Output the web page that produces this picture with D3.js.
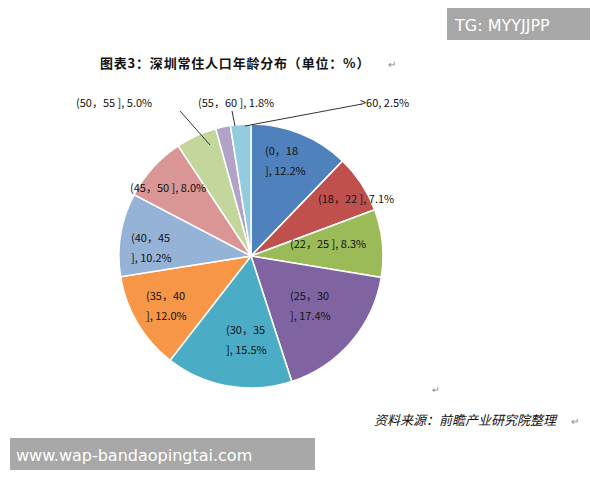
<!DOCTYPE html>
<html><head><meta charset="utf-8">
<script src="https://cdn.jsdelivr.net/npm/d3@7"></script>
<style>body{margin:0;background:#fff}</style>
</head><body>
<svg id="chart" width="600" height="480"></svg>
<script>
var labels = ["(0，18 ]","(18，22 ]","(22，25 ]","(25，30 ]","(30，35 ]","(35，40 ]","(40，45 ]","(45，50 ]","(50，55 ]","(55，60 ]",">60"];
var values = [12.2, 7.1, 8.3, 17.4, 15.5, 12.0, 10.2, 8.0, 5.0, 1.8, 2.5];
var colors = ["#4F81BD","#C0504D","#9BBB59","#8064A2","#4BACC6","#F79646","#95B3D7","#D99694","#C3D69B","#B3A2C7","#93CDDD"];

var svg = d3.select("#chart");
var font = "'Noto Sans CJK SC', sans-serif";

// title
svg.append("text").attr("x", 100).attr("y", 68).attr("font-family", font)
  .attr("font-size", 13).attr("font-weight", "bold").attr("fill", "#111").attr("letter-spacing", 0.8)
  .text("图表3：深圳常住人口年龄分布（单位：%）");
svg.append("text").attr("x", 388).attr("y", 68).attr("font-size", 10).attr("fill", "#888").text("↵");

var cx = 251, cy = 256, r = 132;
var pie = d3.pie().sort(null).value(d => d);
var arc = d3.arc().innerRadius(0).outerRadius(r);
var g = svg.append("g").attr("transform", `translate(${cx},${cy})`);
var arcs = pie(values);
g.selectAll("path").data(arcs).enter().append("path")
  .attr("d", arc).attr("fill", (d, i) => colors[i]).attr("stroke", "#fff").attr("stroke-width", 1.5);

// label positions: [x, y, lines, anchor]
var labelPos = [
  [265, 155, ["(0，18", "], 12.2%"], "start"],
  [318, 203, ["(18，22 ], 7.1%"], "start"],
  [290, 248, ["(22，25 ], 8.3%"], "start"],
  [290, 300, ["(25，30", "], 17.4%"], "start"],
  [226, 334, ["(30，35", "], 15.5%"], "start"],
  [146, 300, ["(35，40", "], 12.0%"], "start"],
  [131, 242, ["(40，45", "], 10.2%"], "start"],
  [130, 192, ["(45，50 ], 8.0%"], "start"],
  [76, 107, ["(50，55 ], 5.0%"], "start"],
  [198, 107, ["(55，60 ], 1.8%"], "start"],
  [360, 107, [">60, 2.5%"], "start"]
];
labelPos.forEach(function (p) {
  var t = svg.append("text").attr("font-family", font).attr("font-size", 11)
    .attr("fill", "#111").attr("text-anchor", p[3]);
  p[2].forEach(function (line, j) {
    t.append("tspan").attr("x", p[0]).attr("y", p[1] + j * 20).text(line);
  });
});
// leader lines for outside labels
[[8, 180, 111, 210, 145], [9, 232, 111, 235, 126], [10, 362, 104, 245, 126]].forEach(function (l) {
  svg.append("line").attr("x1", l[1]).attr("y1", l[2]).attr("x2", l[3]).attr("y2", l[4])
    .attr("stroke", "#333").attr("stroke-width", 1);
});

svg.append("text").attr("x", 432).attr("y", 393).attr("font-size", 9).attr("fill", "#888").text("↵");
svg.append("text").attr("x", 374).attr("y", 425).attr("font-family", font).attr("font-size", 13)
  .attr("font-style", "italic").attr("fill", "#111").text("资料来源：前瞻产业研究院整理");
svg.append("text").attr("x", 571).attr("y", 425).attr("font-size", 10).attr("fill", "#888").text("↵");

// watermarks
svg.append("rect").attr("x", 447).attr("y", 8).attr("width", 143).attr("height", 32).attr("fill", "#999").attr("opacity", 0.85);
svg.append("text").attr("x", 455).attr("y", 31).attr("font-family", "'DejaVu Sans', sans-serif")
  .attr("font-size", 16).attr("fill", "#fff").text("TG: MYYJJPP");
svg.append("rect").attr("x", 10).attr("y", 438).attr("width", 305).attr("height", 32).attr("fill", "#999").attr("opacity", 0.85);
svg.append("text").attr("x", 16).attr("y", 461).attr("font-family", "'DejaVu Sans', sans-serif")
  .attr("font-size", 16).attr("fill", "#fff").text("www.wap-bandaopingtai.com");
</script>
</body></html>
